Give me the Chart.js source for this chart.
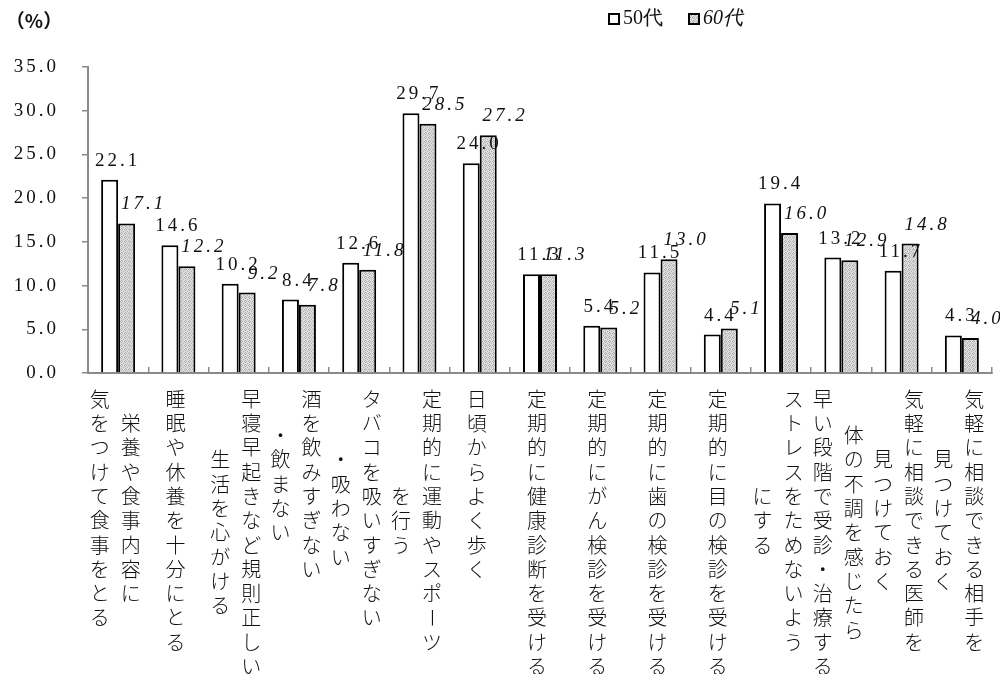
<!DOCTYPE html>
<html>
<head>
<meta charset="utf-8">
<script src="https://cdn.jsdelivr.net/npm/chart.js@4.4.1/dist/chart.umd.min.js"></script>
<style>
  html, body { margin: 0; padding: 0; background: #ffffff; }
  #wrap { width: 1000px; height: 674px; position: relative; }
</style>
</head>
<body>
<div id="wrap"><canvas id="c" width="1000" height="674"></canvas></div>
<script>
// ---- data ----
const categoryLines = [
  ["栄養や食事内容に", "気をつけて食事をとる"],
  ["睡眠や休養を十分にとる"],
  ["早寝早起きなど規則正しい", "生活を心がける"],
  ["酒を飲みすぎない", "・飲まない"],
  ["タバコを吸いすぎない", "・吸わない"],
  ["定期的に運動やスポーツ", "を行う"],
  ["日頃からよく歩く"],
  ["定期的に健康診断を受ける"],
  ["定期的にがん検診を受ける"],
  ["定期的に歯の検診を受ける"],
  ["定期的に目の検診を受ける"],
  ["ストレスをためないよう", "にする"],
  ["体の不調を感じたら", "早い段階で受診・治療する"],
  ["気軽に相談できる医師を", "見つけておく"],
  ["気軽に相談できる相手を", "見つけておく"]
];
const series50 = [22.1, 14.6, 10.2, 8.4, 12.6, 29.7, 24.0, 11.3, 5.4, 11.5, 4.4, 19.4, 13.2, 11.7, 4.3];
const series60 = [17.1, 12.2, 9.2, 7.8, 11.8, 28.5, 27.2, 11.3, 5.2, 13.0, 5.1, 16.0, 12.9, 14.8, 4.0];
const seriesNames = ["50代", "60代"];
const yMin = 0, yMax = 35, yStep = 5;
const unitLabel = "（%）";

// ---- styles ----
const SERIF = "'Liberation Serif', 'DejaVu Serif', serif";
const CJK = "'Noto Sans CJK JP', sans-serif";
const AXIS_GREY = "#8a8a8a";

function makePattern() {
  const c = document.createElement('canvas');
  c.width = 4; c.height = 4;
  const x = c.getContext('2d');
  x.fillStyle = '#dcdcdc';
  x.fillRect(0, 0, 4, 4);
  x.fillStyle = '#b0b0b0';
  [[1,0],[0,1],[2,1],[1,2],[3,3]].forEach(p => x.fillRect(p[0], p[1], 1, 1));
  return x.createPattern(c, 'repeat');
}
const pattern = makePattern();

const labels = categoryLines.map(l => l.join(''));

const spacing = {
  id: 'spacing',
  beforeDraw(chart) { chart.ctx.letterSpacing = '3px'; }
};

const verticalLabels = {
  id: 'verticalLabels',
  afterDraw(chart) {
    const ctx = chart.ctx;
    const xs = chart.scales.x;
    const top = 387, pitch = 24.3, colGap = 31;
    ctx.save();
    ctx.letterSpacing = '0px';
    ctx.fillStyle = '#111';
    ctx.font = "300 20px " + CJK;
    ctx.textAlign = 'center';
    ctx.textBaseline = 'middle';
    categoryLines.forEach((lines, i) => {
      const cx = xs.getPixelForValue(i) - 3;
      const n = lines.length;
      const maxLen = Math.max(...lines.map(s => [...s].length));
      lines.forEach((line, j) => {
        const chars = [...line];
        const x = cx + ((n - 1) / 2 - j) * colGap;
        const startY = top + (maxLen - chars.length) / 2 * pitch;
        chars.forEach((ch, k) => {
          const y = startY + pitch / 2 + k * pitch;
          if (ch === 'ー') {
            ctx.save();
            ctx.translate(x, y);
            ctx.rotate(Math.PI / 2);
            ctx.fillText(ch, 0, 0);
            ctx.restore();
          } else if ('ッっゃゅょァィゥェォャュョ'.includes(ch)) {
            ctx.fillText(ch, x + 3, y - 4);
          } else {
            ctx.fillText(ch, x, y);
          }
        });
      });
    });
    ctx.restore();
  }
};

const valueLabels = {
  id: 'valueLabels',
  afterDatasetsDraw(chart) {
    const ctx = chart.ctx;
    ctx.save();
    ctx.letterSpacing = '3px';
    ctx.fillStyle = '#111';
    ctx.textAlign = 'center';
    ctx.textBaseline = 'middle';
    chart.data.datasets.forEach((ds, di) => {
      const meta = chart.getDatasetMeta(di);
      ctx.font = (di === 1 ? 'italic ' : '') + '19px ' + SERIF;
      const dx = di === 0 ? 8 : 17;
      meta.data.forEach((bar, i) => {
        ctx.fillText(ds.data[i].toFixed(1), bar.x + dx, bar.y - 19);
      });
    });
    ctx.restore();
  }
};

const extras = {
  id: 'extras',
  afterDraw(chart) {
    const ctx = chart.ctx;
    ctx.save();
    ctx.letterSpacing = '0px';
    // unit label
    ctx.fillStyle = '#111';
    ctx.font = "bold 19px " + CJK;
    ctx.textAlign = 'center';
    ctx.textBaseline = 'middle';
    ctx.fillText(unitLabel, 34, 21);
    // legend
    const items = [
      { x: 608, fill: '#ffffff', italic: false },
      { x: 688, fill: pattern, italic: true }
    ];
    items.forEach((it, i) => {
      ctx.fillStyle = it.fill;
      ctx.fillRect(it.x, 13, 12, 12);
      ctx.strokeStyle = '#000';
      ctx.lineWidth = 2;
      ctx.strokeRect(it.x + 1, 14, 10, 10);
      ctx.fillStyle = '#111';
      ctx.textAlign = 'left';
      ctx.font = (it.italic ? 'italic ' : '') + '20px ' + SERIF;
      ctx.fillText(chart.data.datasets[i].label, it.x + 15, 19);
    });
    ctx.restore();
  }
};

new Chart(document.getElementById('c'), {
  type: 'bar',
  data: {
    labels: labels,
    datasets: [
      { label: seriesNames[0], data: series50, backgroundColor: '#ffffff', borderColor: '#000000', borderWidth: 2 },
      { label: seriesNames[1], data: series60, backgroundColor: pattern, borderColor: '#000000', borderWidth: 2 }
    ]
  },
  options: {
    responsive: false,
    animation: false,
    events: [],
    layout: { padding: { top: 67, left: 0, right: 8, bottom: 0 } },
    datasets: { bar: { categoryPercentage: 0.564, barPercentage: 1.0 } },
    plugins: { legend: { display: false }, tooltip: { enabled: false } },
    scales: {
      x: {
        ticks: { display: false },
        grid: { display: true, drawOnChartArea: false, drawTicks: true, tickLength: -6, color: AXIS_GREY, lineWidth: 1.5 },
        border: { display: true, color: AXIS_GREY, width: 2 },
        afterFit(s) { s.height = 301; }
      },
      y: {
        min: yMin, max: yMax,
        ticks: {
          stepSize: yStep,
          padding: 23,
          color: '#111',
          font: { family: SERIF, size: 19 },
          callback: v => v.toFixed(1)
        },
        grid: { drawOnChartArea: false, drawTicks: true, tickLength: 6, color: AXIS_GREY, lineWidth: 1.5 },
        border: { display: true, color: AXIS_GREY, width: 2 },
        afterFit(s) { s.width = 88; }
      }
    }
  },
  plugins: [spacing, valueLabels, verticalLabels, extras]
});
</script>
</body>
</html>
